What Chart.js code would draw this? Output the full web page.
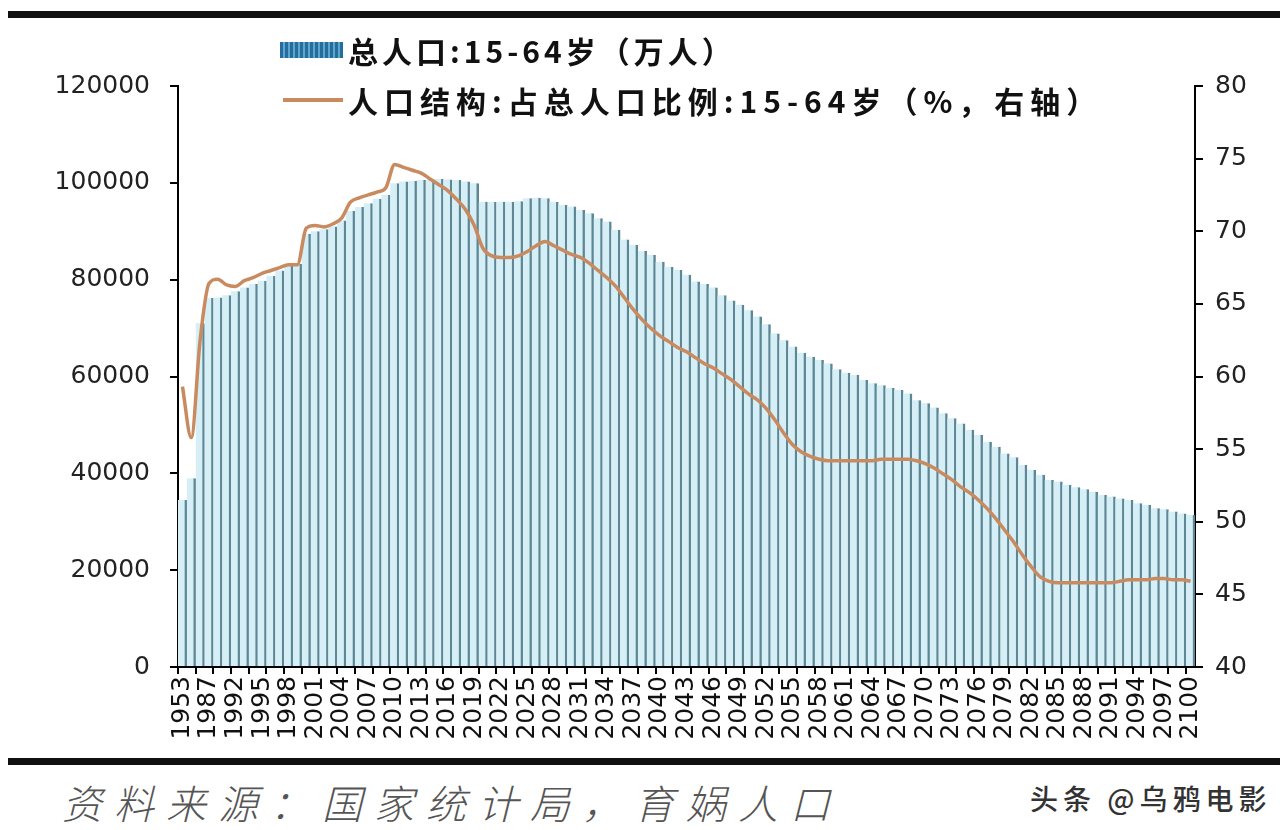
<!DOCTYPE html>
<html>
<head>
<meta charset="utf-8">
<script src="https://cdn.jsdelivr.net/npm/chart.js@4.4.1/dist/chart.umd.min.js"></script>
<style>
  html, body { margin: 0; padding: 0; background: #fff; }
  body { width: 1280px; height: 830px; position: relative; overflow: hidden; }
  #wrap { position: absolute; left: 0; top: 0; width: 1280px; height: 760px; }
  .rule { position: absolute; left: 8px; width: 1272px; height: 7px; background: #111; }
  .leg { position: absolute; left: 348px; font-family: "Noto Sans CJK SC", sans-serif; font-weight: 700;
         font-size: 30px; color: #111; line-height: 1; white-space: nowrap; }
  #swBar { position: absolute; left: 280px; top: 42px; width: 63px; height: 16px;
           background: repeating-linear-gradient(90deg, #236e9e 0 3px, #5ea7c9 3px 5px); }
  #swLine { position: absolute; left: 283px; top: 98px; width: 60px; height: 4px; background: #c98a5f; }
  #source { position: absolute; left: 62px; top: 782px; font-family: "Noto Sans CJK SC", sans-serif;
            font-style: italic; font-weight: 300; font-size: 40px; letter-spacing: 12px; color: #555;
            line-height: 1; white-space: nowrap; }
  #mark { position: absolute; left: 1030px; top: 784px; font-family: "Noto Sans CJK SC", sans-serif;
          font-weight: 500; font-size: 28px; letter-spacing: 5px; color: #333; line-height: 1; white-space: nowrap; }
</style>
</head>
<body>
<div class="rule" style="top:11px"></div>
<div id="wrap"><canvas id="chart"></canvas></div>
<div id="swBar"></div>
<div class="leg" style="top:35px; letter-spacing:4px">总人口:15-64岁（万人）</div>
<div id="swLine"></div>
<div class="leg" style="top:85px; letter-spacing:6px">人口结构:占总人口比例:15-64岁（%，右轴）</div>
<div class="rule" style="top:758px"></div>
<div id="source">资料来源：国家统计局，育娲人口</div>
<div id="mark">头条 @乌鸦电影</div>

<script>
const years = [
  1953, 1964, 1982, 1987, 1990, 1991,
  1992, 1993, 1994, 1995, 1996, 1997, 1998, 1999, 2000, 2001,
  2002, 2003, 2004, 2005, 2006, 2007, 2008, 2009, 2010, 2011,
  2012, 2013, 2014, 2015, 2016, 2017, 2018, 2019, 2020, 2021,
  2022, 2023, 2024, 2025, 2026, 2027, 2028, 2029, 2030, 2031,
  2032, 2033, 2034, 2035, 2036, 2037, 2038, 2039, 2040, 2041,
  2042, 2043, 2044, 2045, 2046, 2047, 2048, 2049, 2050, 2051,
  2052, 2053, 2054, 2055, 2056, 2057, 2058, 2059, 2060, 2061,
  2062, 2063, 2064, 2065, 2066, 2067, 2068, 2069, 2070, 2071,
  2072, 2073, 2074, 2075, 2076, 2077, 2078, 2079, 2080, 2081,
  2082, 2083, 2084, 2085, 2086, 2087, 2088, 2089, 2090, 2091,
  2092, 2093, 2094, 2095, 2096, 2097, 2098, 2099, 2100
];

// 总人口:15-64岁（万人）
const pop1564 = [
  34500, 39000, 71000, 76200, 76300, 76800,
  77600, 78400, 79100, 79800, 80800, 81900, 82900, 83300, 89500, 90000,
  90400, 91000, 92200, 94200, 95000, 95800, 96700, 97500, 99900, 100300,
  100400, 100600, 100700, 100800, 100700, 100600, 100300, 99900, 96100, 96100,
  96100, 96100, 96200, 96800, 96900, 96800, 96100, 95400, 95100, 94400,
  93700, 92700, 92000, 90300, 88300, 87200, 85900, 85100, 83700, 82600,
  82000, 81000, 79600, 79100, 78400, 76800, 75700, 74800, 73700, 72400,
  70800, 68900, 67500, 66200, 64900, 64100, 63400, 62700, 61500, 60800,
  60300, 59300, 58600, 58200, 57600, 57200, 56500, 55100, 54500, 53600,
  52400, 51400, 50300, 49000, 47900, 46500, 45500, 44100, 43300, 41700,
  40700, 39700, 38600, 38300, 37600, 37100, 36700, 36200, 35500, 35200,
  34800, 34500, 33800, 33500, 32800, 32600, 32100, 31700, 31400
];

// 人口结构:占总人口比例:15-64岁（%）
const share1564 = [
  59.3, 55.8, 62.5, 66.4, 66.7, 66.3,
  66.2, 66.6, 66.8, 67.1, 67.3, 67.5, 67.7, 67.7, 70.2, 70.4,
  70.3, 70.5, 70.9, 72.0, 72.3, 72.5, 72.7, 73.0, 74.6, 74.4,
  74.2, 74.0, 73.6, 73.2, 72.8, 72.2, 71.5, 70.4, 68.8, 68.3,
  68.2, 68.2, 68.3, 68.6, 69.0, 69.3, 69.0, 68.7, 68.4, 68.2,
  67.8, 67.3, 66.8, 66.2, 65.4, 64.6, 63.9, 63.3, 62.8, 62.4,
  62.0, 61.7, 61.3, 60.9, 60.6, 60.2, 59.8, 59.3, 58.8, 58.4,
  57.8, 57.0, 56.1, 55.3, 54.8, 54.5, 54.3, 54.2, 54.2, 54.2,
  54.2, 54.2, 54.2, 54.3, 54.3, 54.3, 54.3, 54.2, 54.0, 53.7,
  53.3, 52.9, 52.4, 52.0, 51.5, 50.9, 50.2, 49.4, 48.6, 47.7,
  46.9, 46.2, 45.9, 45.8, 45.8, 45.8, 45.8, 45.8, 45.8, 45.8,
  45.9, 46.0, 46.0, 46.0, 46.1, 46.1, 46.0, 46.0, 45.9
];

const leftTicks = { min: 0, max: 120000, step: 20000 };
const rightTicks = { min: 40, max: 80, step: 5 };

Chart.defaults.font.family = 'DejaVu Sans';
Chart.defaults.color = '#222';

const tickFont = { family: 'DejaVu Sans', size: 25 };

new Chart(document.getElementById('chart'), {
  data: {
    labels: years,
    datasets: [
      {
        type: 'line',
        label: '人口结构:占总人口比例:15-64岁（%，右轴）',
        data: share1564,
        yAxisID: 'y1',
        borderColor: '#c98a5f',
        borderWidth: 3.5,
        pointRadius: 0,
        cubicInterpolationMode: 'monotone',
        order: 0
      },
      {
        type: 'bar',
        label: '总人口:15-64岁（万人）',
        data: pop1564,
        yAxisID: 'y',
        backgroundColor: '#d6eff6',
        borderColor: '#5d8795',
        borderWidth: { left: 0, right: 2.5, top: 0, bottom: 0 },
        borderSkipped: false,
        barPercentage: 1,
        categoryPercentage: 1,
        order: 1
      }
    ]
  },
  options: {
    responsive: true,
    maintainAspectRatio: false,
    animation: false,
    layout: { padding: { top: 86, left: 0, right: 0, bottom: 0 } },
    plugins: { legend: { display: false }, tooltip: { enabled: false } },
    scales: {
      x: {
        offset: true,
        grid: {
          display: true, drawOnChartArea: false, offset: true, tickLength: 7, lineWidth: 2,
          tickColor: ctx => (ctx.index % 2 === 0 ? '#000' : 'rgba(0,0,0,0)')
        },
        border: { display: true, color: '#000', width: 2 },
        ticks: {
          autoSkip: false, minRotation: 90, maxRotation: 90, padding: 2,
          font: { family: 'DejaVu Sans', size: 25 }, color: '#111',
          callback: (v, i) => (i % 3 === 0 ? String(years[i]) : '')
        },
        afterFit: s => { s.height = 93; }
      },
      y: {
        position: 'left',
        min: leftTicks.min, max: leftTicks.max,
        grid: { display: true, drawOnChartArea: false, tickLength: 8, color: '#000', lineWidth: 2 },
        border: { display: true, color: '#000', width: 2 },
        ticks: { stepSize: leftTicks.step, padding: 20, font: tickFont, color: '#222', callback: v => String(v) },
        afterFit: s => { s.width = 178; }
      },
      y1: {
        position: 'right',
        min: rightTicks.min, max: rightTicks.max,
        grid: { display: true, drawOnChartArea: false, tickLength: 8, color: '#000', lineWidth: 2 },
        border: { display: true, color: '#000', width: 2 },
        ticks: { stepSize: rightTicks.step, padding: 12, font: tickFont, color: '#222', callback: v => String(v) },
        afterFit: s => { s.width = 85; }
      }
    }
  }
});
</script>
</body>
</html>
